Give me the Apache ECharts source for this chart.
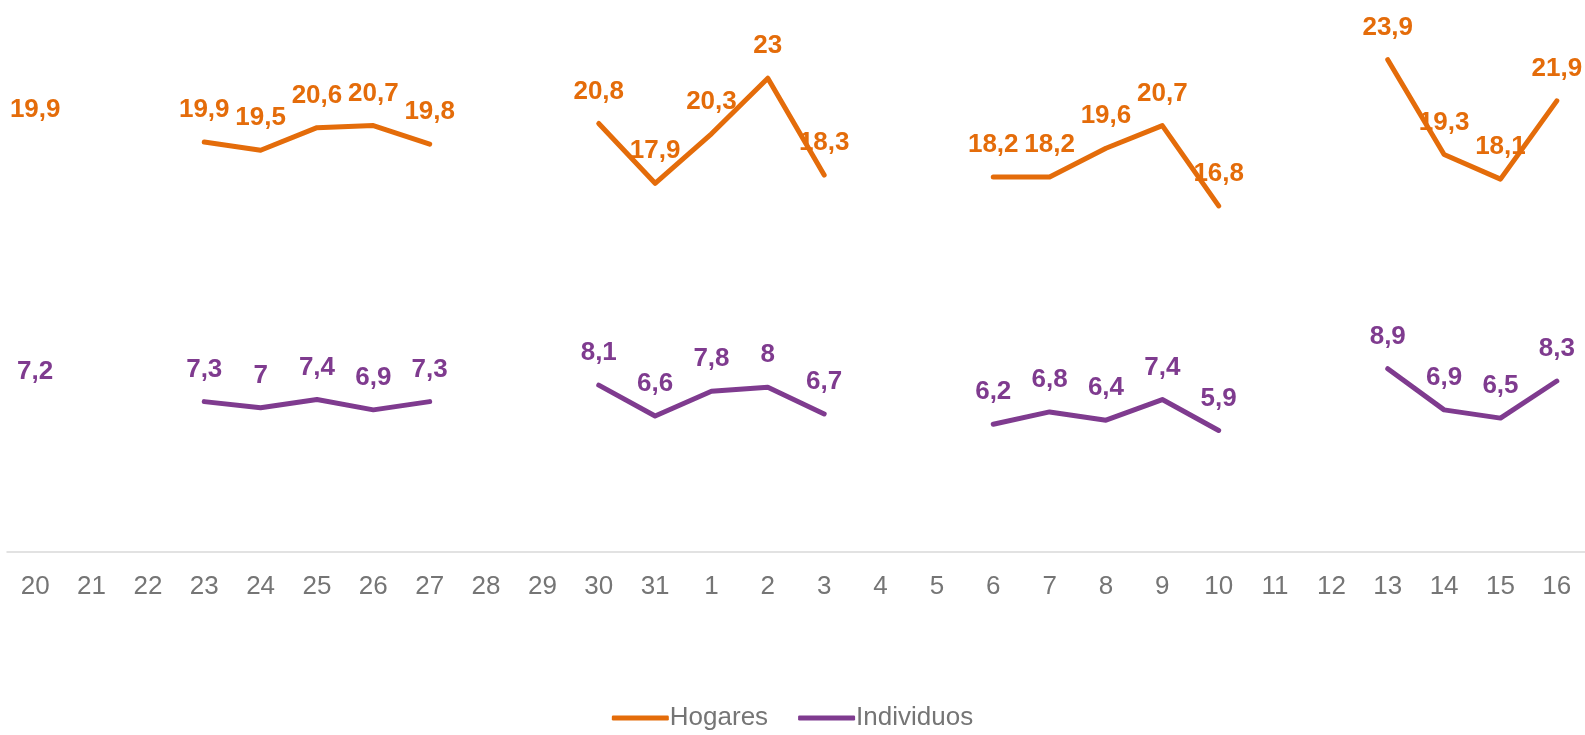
<!DOCTYPE html>
<html>
<head>
<meta charset="utf-8">
<script src="https://cdn.jsdelivr.net/npm/echarts@6/dist/echarts.min.js"></script>
<style>
  html, body { margin: 0; padding: 0; background: #fff; }
  #main { width: 1585px; height: 735px; }
</style>
</head>
<body>
<div id="main"></div>
<script>
// categorias (dias)
const dias = ['20', '21', '22', '23', '24', '25', '26', '27', '28', '29', '30', '31',
  '1', '2', '3', '4', '5', '6', '7', '8', '9', '10', '11', '12', '13', '14', '15', '16']
// series
const hogares = [19.9, null, null, 19.9, 19.5, 20.6, 20.7, 19.8, null, null, 20.8, 17.9,
  20.3, 23, 18.3, null, null, 18.2, 18.2, 19.6, 20.7, 16.8, null, null, 23.9, 19.3, 18.1, 21.9]
const individuos = [7.2, null, null, 7.3, 7, 7.4, 6.9, 7.3, null, null, 8.1, 6.6,
  7.8, 8, 6.7, null, null, 6.2, 6.8, 6.4, 7.4, 5.9, null, null, 8.9, 6.9, 6.5, 8.3]

const fuente = '"Liberation Sans Narrow", "Arial Narrow", "Liberation Sans", sans-serif'

const chart = echarts.init(document.getElementById('main'))

const serie = (name, data, color) => ({
  name,
  type: 'line',
  data,
  connectNulls: false,
  symbol: 'circle',
  symbolSize: 0,
  itemStyle: { color },
  lineStyle: { color, width: 5, cap: 'round', join: 'round' },
  label: {
    show: true,
    position: 'top',
    distance: 19,
    color,
    fontFamily: fuente,
    fontWeight: 'bold',
    fontSize: 26,
    formatter: (p) => String(p.value).replace('.', ',')
  },
  emphasis: { disabled: true }
})

const option = {
  animation: false,
  grid: { left: 7, right: 0, top: 37, bottom: 183 },
  legend: {
    top: 700,
    left: 'center',
    icon: 'roundRect',
    itemWidth: 57,
    itemHeight: 5,
    itemGap: 30,
    textStyle: { color: '#757575', fontSize: 26, fontFamily: fuente, padding: [0, 0, 0, -4] },
    data: ['Hogares', 'Individuos']
  },
  xAxis: {
    type: 'category',
    data: dias,
    boundaryGap: true,
    axisLine: { lineStyle: { color: '#d9d9d9', width: 1.5 } },
    axisTick: { show: false },
    axisLabel: { color: '#757575', fontSize: 26, fontFamily: fuente, margin: 22, interval: 0 }
  },
  yAxis: {
    type: 'value',
    min: 0,
    max: 25,
    show: false,
    splitLine: { show: false }
  },
  series: [
    serie('Hogares', hogares, '#E46C0A'),
    serie('Individuos', individuos, '#7F3B8F')
  ]
}

chart.setOption(option)
</script>
</body>
</html>
